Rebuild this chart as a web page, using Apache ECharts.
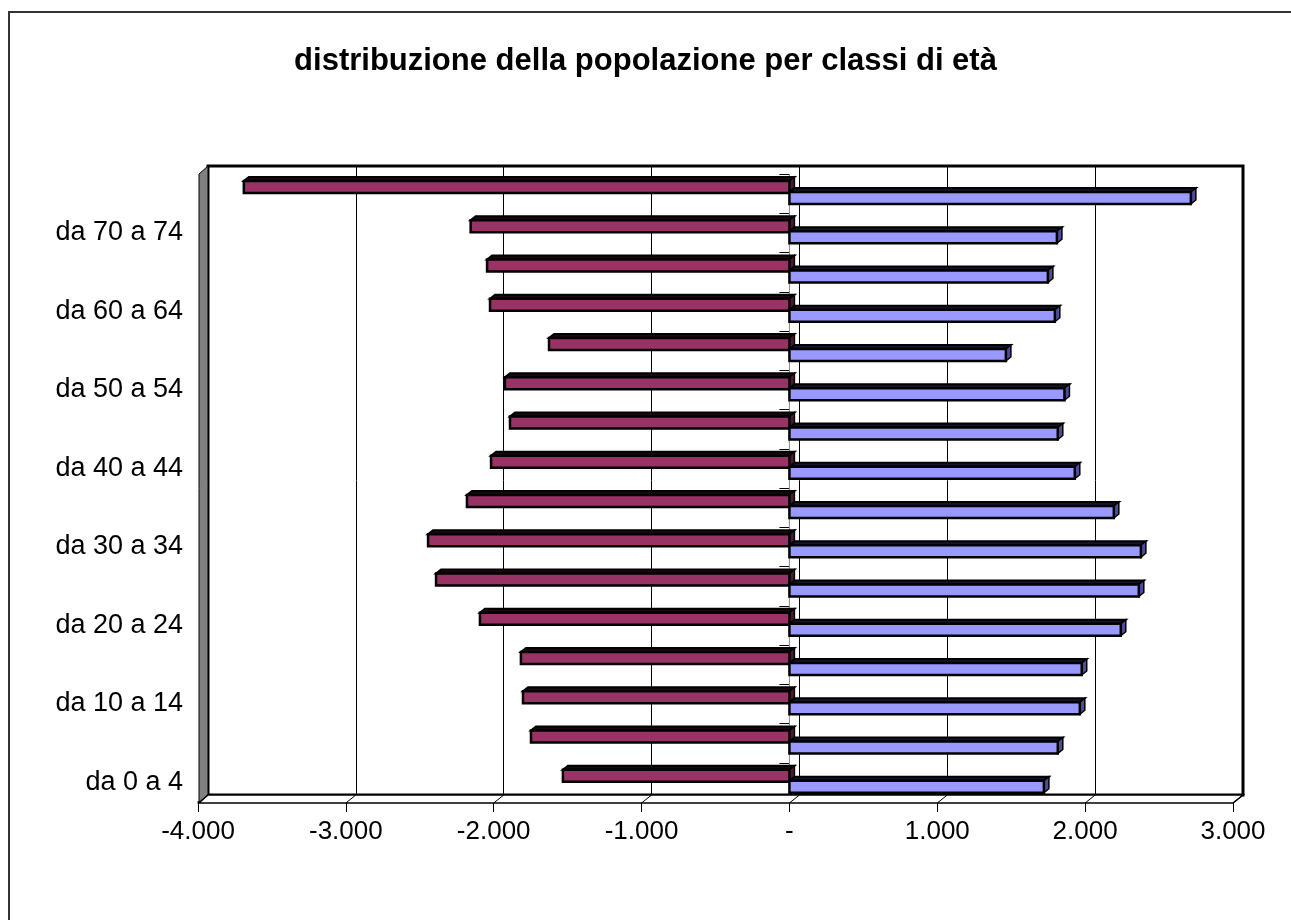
<!DOCTYPE html>
<html>
<head>
<meta charset="utf-8">
<script src="https://cdn.jsdelivr.net/npm/echarts@6/dist/echarts.min.js"></script>
<style>
html, body { margin: 0; padding: 0; background: #fff; }
#chart { width: 1291px; height: 920px; }
</style>
</head>
<body>
<div id="chart"></div>
<script>
// classi di età, dal basso verso l'alto
var categories = ['da 0 a 4', 'da 5 a 9', 'da 10 a 14', 'da 15 a 19', 'da 20 a 24', 'da 25 a 29',
  'da 30 a 34', 'da 35 a 39', 'da 40 a 44', 'da 45 a 49', 'da 50 a 54', 'da 55 a 59',
  'da 60 a 64', 'da 65 a 69', 'da 70 a 74', '75 e oltre'];
// barre a sinistra (viola)
var leftValues = [-1532, -1748, -1802, -1816, -2093, -2390, -2444, -2181,
  -2018, -1890, -1924, -1626, -2025, -2045, -2156, -3690];
// barre a destra (azzurro)
var rightValues = [1721, 1815, 1964, 1977, 2241, 2363, 2377, 2194,
  1930, 1815, 1860, 1464, 1795, 1748, 1809, 2715];

var axisMin = -4000, axisMax = 3000, step = 1000;
var font = 'Liberation Sans, Arial, sans-serif';

function fmt(v) {
  if (v === 0) return '-';
  var s = Math.abs(v).toString().replace(/\B(?=(\d{3})+(?!\d))/g, '.');
  return (v < 0 ? '-' : '') + s;
}

// barra "3D" come in excel: faccia frontale + faccia sopra + lato
function bar3d(face, top, side, shift) {
  return function (params, api) {
    var v = api.value(0), c = api.value(1);
    var a = api.coord([0, c]);
    var b = api.coord([v, c]);
    var band = api.size([0, 1])[1];
    var y = a[1] - band / 2 + shift;
    var h = 12, dx = 5, dy = 4;
    var xl = Math.min(a[0], b[0]), xr = Math.max(a[0], b[0]);
    return {
      type: 'group',
      children: [
        { type: 'polygon', shape: { points: [[xl, y], [xr, y], [xr + dx, y - dy], [xl + dx, y - dy]] },
          style: { fill: top, stroke: '#000', lineWidth: 2 } },
        { type: 'polygon', shape: { points: [[xr, y], [xr + dx, y - dy], [xr + dx, y + h - dy], [xr, y + h]] },
          style: { fill: side, stroke: '#000', lineWidth: 1.5 } },
        { type: 'rect', shape: { x: xl, y: y, width: xr - xl, height: h },
          style: { fill: face, stroke: '#000', lineWidth: 2.5 } }
      ]
    };
  };
}

var chart = echarts.init(document.getElementById('chart'));

var option = {
  backgroundColor: '#fff',
  animation: false,
  title: {
    text: 'distribuzione della popolazione per classi di età',
    left: 'center',
    top: 41,
    textStyle: { fontFamily: font, fontSize: 31, fontWeight: 'bold', color: '#000' }
  },
  grid: [
    // parete di fondo
    { left: 208, right: 48, top: 166, bottom: 125, show: true, borderColor: '#000', borderWidth: 3, backgroundColor: 'transparent' },
    // piano frontale
    { left: 198, right: 58, top: 174, bottom: 118 }
  ],
  xAxis: [
    { gridIndex: 0, type: 'value', min: axisMin, max: axisMax, interval: step,
      axisLabel: { show: false }, axisLine: { show: false }, axisTick: { show: false },
      splitLine: { show: true, lineStyle: { color: '#000', width: 1 } } },
    { gridIndex: 1, type: 'value', min: axisMin, max: axisMax, interval: step,
      axisLine: { show: true, onZero: false, lineStyle: { color: '#000', width: 1.5 } },
      axisTick: { show: true, length: 10, lineStyle: { color: '#000', width: 1 } },
      splitLine: { show: false },
      axisLabel: { margin: 17, color: '#000', fontFamily: font, fontSize: 26, formatter: fmt } }
  ],
  yAxis: [
    { gridIndex: 0, type: 'value', show: false },
    { gridIndex: 1, type: 'category', data: categories,
      axisLine: { show: false },
      axisTick: { show: true, length: 10, interval: 0, lineStyle: { color: '#000', width: 1 } },
      axisLabel: { interval: 1, margin: 15, color: '#000', fontFamily: font, fontSize: 27 } }
  ],
  series: [
    { name: 'sinistra', type: 'custom', xAxisIndex: 1, yAxisIndex: 1,
      renderItem: bar3d('#993366', '#1a0a10', '#4d1a33', 7),
      encode: { x: 0, y: 1 },
      data: leftValues.map(function (v, i) { return [v, i]; }) },
    { name: 'destra', type: 'custom', xAxisIndex: 1, yAxisIndex: 1,
      renderItem: bar3d('#9999ff', '#14142a', '#4d4d99', 18),
      encode: { x: 0, y: 1 },
      data: rightValues.map(function (v, i) { return [v, i]; }) }
  ]
};
chart.setOption(option);

// cornice, parete laterale, pavimento
var g = [
  { type: 'rect', shape: { x: 9, y: 12, width: 1400, height: 1000 },
    style: { fill: 'none', stroke: '#333', lineWidth: 2 }, z: 0 },
  { type: 'polygon', shape: { points: [[199, 174], [208, 166], [208, 795], [199, 803]] },
    style: { fill: '#808080', stroke: '#000', lineWidth: 1 }, z: 5 },
  { type: 'polygon', shape: { points: [[199, 803], [208, 795], [1243, 795], [1233, 803]] },
    style: { fill: '#fff', stroke: '#000', lineWidth: 1.5 }, z: 5 }
];
for (var t = axisMin; t <= axisMax; t += step) {
  var px = chart.convertToPixel({ xAxisIndex: 1 }, t);
  g.push({ type: 'line', shape: { x1: px, y1: 803, x2: px + 10, y2: 795 },
    style: { stroke: '#000', lineWidth: 1 }, z: 6 });
}
var zx = chart.convertToPixel({ xAxisIndex: 1 }, 0);
g.push({ type: 'line', shape: { x1: zx, y1: 174, x2: zx, y2: 802 },
  style: { stroke: '#888', lineWidth: 1 }, z: 1 });
chart.setOption({ graphic: g });
</script>
</body>
</html>
